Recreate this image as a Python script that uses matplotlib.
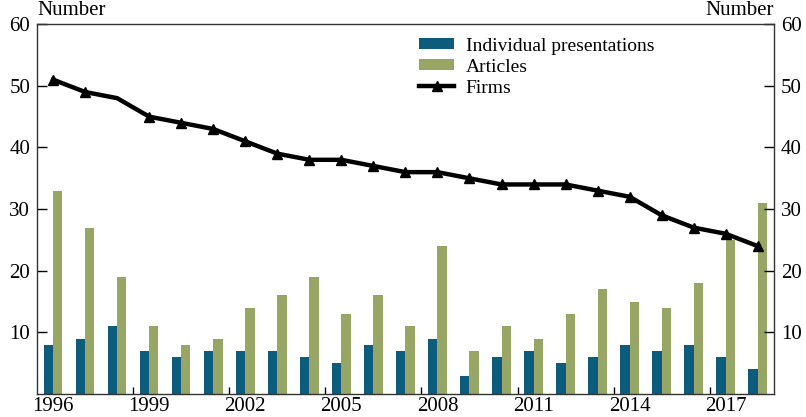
import matplotlib
matplotlib.use("Agg")
import matplotlib.pyplot as plt
import numpy as np

# data
years = list(range(1996, 2019))
presentations = [8, 9, 11, 7, 6, 7, 7, 7, 6, 5, 8, 7, 9, 3, 6, 7, 5, 6, 8, 7, 8, 6, 4]
articles = [33, 27, 19, 11, 8, 9, 14, 16, 19, 13, 16, 11, 24, 7, 11, 9, 13, 17, 15, 14, 18, 25, 31]
firms = [51, 49, 48, 45, 44, 43, 41, 39, 38, 38, 37, 36, 36, 35, 34, 34, 34, 33, 32, 29, 27, 26, 24]
tick_years = [1996, 1999, 2002, 2005, 2008, 2011, 2014, 2017]

plt.rcParams['font.family'] = ['Liberation Serif', 'DejaVu Serif']
plt.rcParams['font.size'] = 15

teal = '#0d5c7b'
olive = '#97a565'

fig = plt.figure(figsize=(8.06, 4.17), dpi=100)
ax = fig.add_axes([0.046, 0.055, 0.914, 0.887])

x = np.arange(len(years))
w = 0.29
b1 = ax.bar(x - w / 2, presentations, w, color=teal, label='Individual presentations')
b2 = ax.bar(x + w / 2, articles, w, color=olive, label='Articles')
marks = [i for i in range(len(years)) if i != 2]
ln, = ax.plot(x, firms, color='black', lw=3.2, marker='^', ms=7,
              markevery=marks, label='Firms')

ax.set_xlim(-0.5, len(years) - 0.5)
ax.set_ylim(0, 60)
ax.set_yticks([10, 20, 30, 40, 50, 60])
ax.tick_params(axis='y', direction='in', length=7, width=1, labelsize=15,
               left=True, right=True, labelleft=True, labelright=True, pad=5)

# year labels at bar groups, tick marks at year boundaries
ax.set_xticks([years.index(y) for y in tick_years])
ax.set_xticklabels([str(y) for y in tick_years])
ax.tick_params(axis='x', which='major', length=0, pad=2, labelsize=15)
ax.set_xticks([years.index(y) - 0.5 for y in tick_years[1:]], minor=True)
ax.tick_params(axis='x', which='minor', direction='in', length=5, width=1)

for s in ax.spines.values():
    s.set_linewidth(1)
    s.set_color('#333333')

fig.text(0.046, 0.952, 'Number', ha='left', va='bottom', fontsize=15)
fig.text(0.96, 0.952, 'Number', ha='right', va='bottom', fontsize=15)

ax.legend([b1, b2, ln], ['Individual presentations', 'Articles', 'Firms'],
          loc='upper left', bbox_to_anchor=(0.5, 1.0), frameon=False,
          fontsize=14, handlelength=1.8, handleheight=0.5,
          labelspacing=0.2, borderaxespad=0.3, handletextpad=0.6)

fig.savefig('out.png', dpi=100)
